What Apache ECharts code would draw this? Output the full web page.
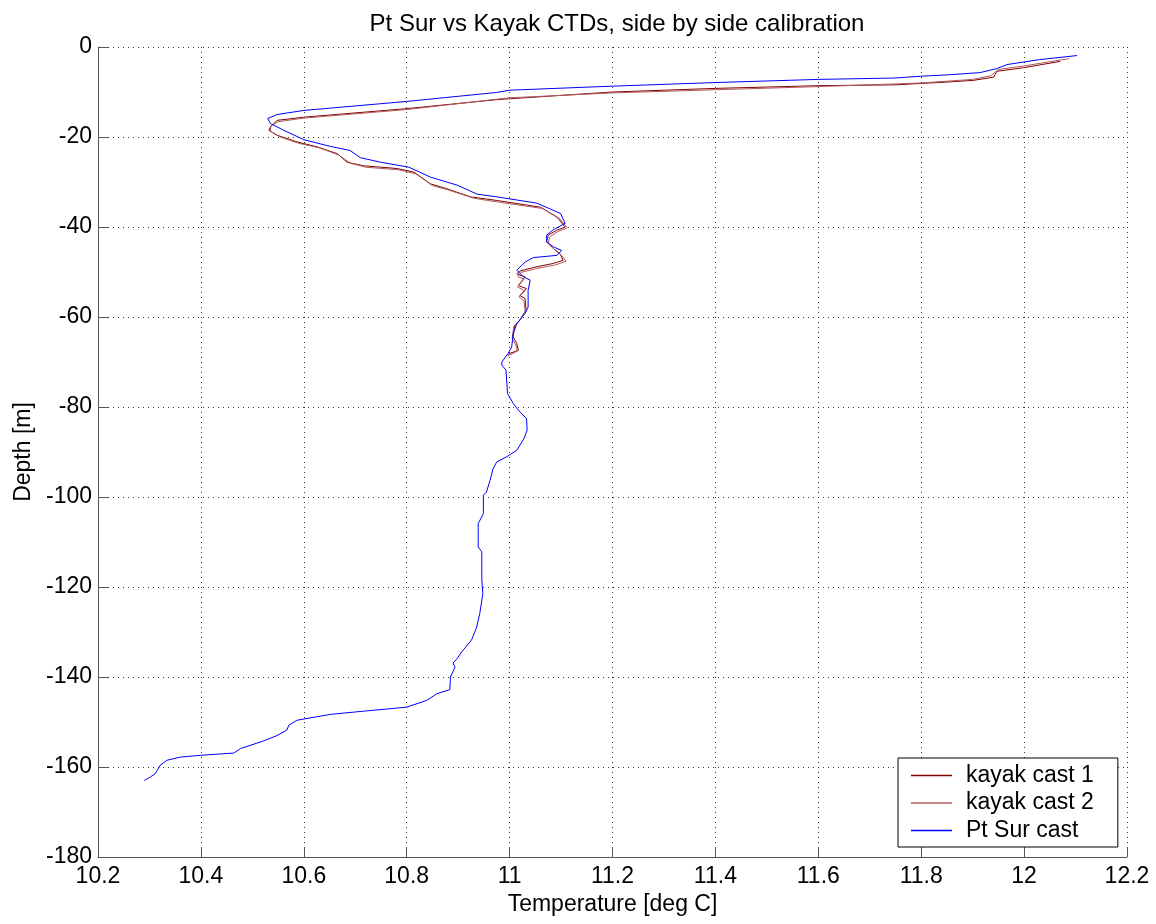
<!DOCTYPE html>
<html>
<head>
<meta charset="utf-8">
<title>Pt Sur vs Kayak CTDs</title>
<script src="https://cdn.jsdelivr.net/npm/echarts@6/dist/echarts.min.js"></script>
<style>
  html, body { margin: 0; padding: 0; background: #ffffff; }
  #chart { width: 1156px; height: 924px; }
</style>
</head>
<body>
<div id="chart"></div>
<script>
// Pt Sur cast (temperature, depth)
var ptSurTemp = [12.103, 12.03, 11.967, 11.947, 11.914, 11.85, 11.798, 11.747, 11.6, 11.4, 11.2, 11.0, 10.975,
  10.8, 10.6, 10.548, 10.53, 10.535, 10.561, 10.6, 10.652, 10.69, 10.71, 10.749, 10.804, 10.846, 10.898,
  10.937, 10.975, 11.053, 11.099, 11.108, 11.111, 11.085, 11.072, 11.072, 11.085, 11.101, 11.092, 11.046,
  11.03, 11.014, 11.027, 11.04, 11.036, 11.036, 11.03, 11.014, 11.007, 11.004, 10.997, 10.985, 10.985,
  10.993, 10.996, 11.007, 11.017, 11.033, 11.034, 11.028, 11.014, 10.994, 10.975, 10.968, 10.962, 10.955,
  10.949, 10.949, 10.939, 10.939, 10.946, 10.946, 10.948, 10.942, 10.936, 10.926, 10.907, 10.898, 10.89,
  10.894, 10.885, 10.884, 10.859, 10.839, 10.8, 10.716, 10.652, 10.587, 10.571, 10.567, 10.548, 10.522,
  10.477, 10.464, 10.399, 10.36, 10.334, 10.321, 10.311, 10.302, 10.29];
var ptSurDepth = [-1.9, -2.8, -3.9, -4.8, -5.7, -6.2, -6.5, -6.9, -7.2, -7.9, -8.7, -9.6, -10.1,
  -12.1, -14.1, -15, -15.9, -17, -18.5, -20.6, -22.1, -23, -24.6, -25.6, -26.7, -28.9, -30.7,
  -32.7, -33.3, -34.7, -37, -39.2, -39.6, -40.6, -41.8, -43.3, -44.4, -45.2, -46.3, -46.8,
  -47.8, -49.6, -51.1, -51.8, -54.1, -57.8, -59.2, -61.5, -63.7, -66.7, -68.1, -70, -70.7,
  -71.8, -77, -79.2, -80.7, -82.6, -85.2, -87, -89.6, -91.1, -92.2, -93.7, -96.3, -98.9,
  -99.6, -103.7, -105.9, -111.1, -112.2, -118.5, -121.5, -125.9, -128.9, -131.8, -134.4, -135.9, -136.9,
  -137.8, -140, -142.8, -143.7, -145.2, -146.7, -147.6, -148.3, -149.6, -150.7, -151.8, -153, -154.2,
  -155.9, -156.9, -157.4, -157.8, -158.5, -159.6, -161.5, -162.2, -163];

// kayak cast 1
var kayak1Temp = [12.07, 11.999, 11.947, 11.941, 11.902, 11.85, 11.798, 11.753, 11.6, 11.4, 11.2, 11.0, 10.975,
  10.8, 10.6, 10.548, 10.535, 10.532, 10.548, 10.587, 10.626, 10.665, 10.684, 10.716, 10.781, 10.814,
  10.846, 10.878, 10.924, 10.975, 11.06, 11.092, 11.108, 11.092, 11.075, 11.072, 11.085, 11.098, 11.104,
  11.085, 11.046, 11.02, 11.014, 11.03, 11.017, 11.033, 11.02, 11.03, 11.032, 11.02, 11.01, 11.007,
  11.014, 11.017, 11.0, 10.997];
var kayak1Depth = [-3.2, -4.6, -5.4, -6.7, -7.4, -7.8, -8.1, -8.4, -8.6, -9.2, -10, -11.5, -11.7,
  -13.7, -15.6, -16.3, -17.8, -18.5, -19.6, -21.1, -22.2, -23.7, -25.6, -26.4, -27, -27.8,
  -30.4, -31.5, -33.3, -34.1, -35.6, -37.8, -40, -40.7, -41.8, -43.3, -44.8, -45.9, -47.4,
  -48.1, -49, -49.8, -50.4, -51.1, -53, -53.7, -55.2, -55.9, -58.5, -60.7, -61.8, -64.4,
  -65.9, -67.4, -68.1, -68.7];

// kayak cast 2
var kayak2Temp = [12.087, 12.0, 11.95, 11.935, 11.9, 11.85, 11.798, 11.75, 11.6, 11.4, 11.2, 11.0, 10.975,
  10.8, 10.6, 10.55, 10.536, 10.535, 10.552, 10.59, 10.63, 10.668, 10.69, 10.72, 10.785, 10.818,
  10.85, 10.882, 10.93, 10.98, 11.065, 11.097, 11.112, 11.094, 11.078, 11.075, 11.088, 11.1, 11.11,
  11.09, 11.05, 11.022, 11.016, 11.028, 11.015, 11.03, 11.018, 11.028, 11.03, 11.018, 11.008, 11.005,
  11.012, 11.015, 11.0];
var kayak2Depth = [-2.6, -4.2, -5.0, -6.4, -7.2, -7.6, -8.0, -8.2, -8.8, -9.5, -10.2, -11.3, -11.6,
  -13.9, -15.8, -16.6, -17.5, -18.7, -19.9, -21.4, -22.4, -24.0, -25.8, -26.7, -27.3, -28.2,
  -30.8, -31.8, -33.6, -34.5, -35.9, -38.1, -40.2, -41, -42.2, -43.6, -45.1, -46.2, -47.6,
  -48.4, -49.3, -50.1, -51, -51.6, -53.3, -54.2, -55.5, -56.4, -58.8, -61, -62.2, -64.8,
  -66.2, -67.6, -68.4];

var seriesNames = ['kayak cast 1', 'kayak cast 2', 'Pt Sur cast'];
var seriesColors = ['#800000', '#b05a5a', '#0000ff'];

function pairs(t, d) {
  var out = [];
  for (var i = 0; i < t.length; i++) out.push([t[i], d[i]]);
  return out;
}

var font = 'Liberation Sans, Arial, Helvetica, sans-serif';
var gridLine = {show: true, lineStyle: {color: '#333', type: [1, 4], width: 1}};

var myChart = echarts.init(document.getElementById('chart'));
var option = {
  animation: false,
  backgroundColor: '#ffffff',
  textStyle: {fontFamily: font},
  title: {
    text: 'Pt Sur vs Kayak CTDs, side by side calibration',
    left: 612, top: 7, textAlign: 'center',
    textStyle: {fontFamily: font, fontSize: 24, fontWeight: 'normal', color: '#000'}
  },
  grid: {left: 98, top: 47, width: 1029, height: 810},
  legend: {
    orient: 'vertical',
    left: 898, top: 758,
    padding: [6, 24, 5, 13],
    itemGap: 4.5,
    itemWidth: 41, itemHeight: 1.5,
    icon: 'rect',
    backgroundColor: '#fff',
    borderColor: '#000', borderWidth: 1, borderRadius: 0,
    textStyle: {fontFamily: font, fontSize: 23, color: '#000', padding: [0, 0, 0, 9]},
    data: seriesNames
  },
  xAxis: {
    type: 'value', min: 10.2, max: 12.2, interval: 0.2,
    name: 'Temperature [deg C]', nameLocation: 'middle', nameGap: 30,
    nameTextStyle: {fontFamily: font, fontSize: 23, color: '#000'},
    axisLine: {show: true, onZero: false, lineStyle: {color: '#555'}},
    axisTick: {show: true, inside: true, length: 10, lineStyle: {color: '#555'}},
    axisLabel: {fontFamily: font, fontSize: 23, color: '#000', margin: 8},
    splitLine: gridLine
  },
  yAxis: {
    type: 'value', min: -180, max: 0, interval: 20,
    name: 'Depth [m]', nameLocation: 'middle', nameGap: 60,
    nameTextStyle: {fontFamily: font, fontSize: 23, color: '#000'},
    axisLine: {show: true, onZero: false, lineStyle: {color: '#555'}},
    axisTick: {show: true, inside: true, length: 10, lineStyle: {color: '#555'}},
    axisLabel: {fontFamily: font, fontSize: 23, color: '#000', margin: 6},
    splitLine: gridLine
  },
  series: [
    {name: seriesNames[0], type: 'line', data: pairs(kayak1Temp, kayak1Depth)},
    {name: seriesNames[1], type: 'line', data: pairs(kayak2Temp, kayak2Depth)},
    {name: seriesNames[2], type: 'line', data: pairs(ptSurTemp, ptSurDepth)}
  ].map(function (s, i) {
    s.showSymbol = false;
    s.symbol = 'none';
    s.clip = true;
    s.color = seriesColors[i];
    s.lineStyle = {width: 1, color: seriesColors[i]};
    return s;
  })
};
myChart.setOption(option);
</script>
</body>
</html>
